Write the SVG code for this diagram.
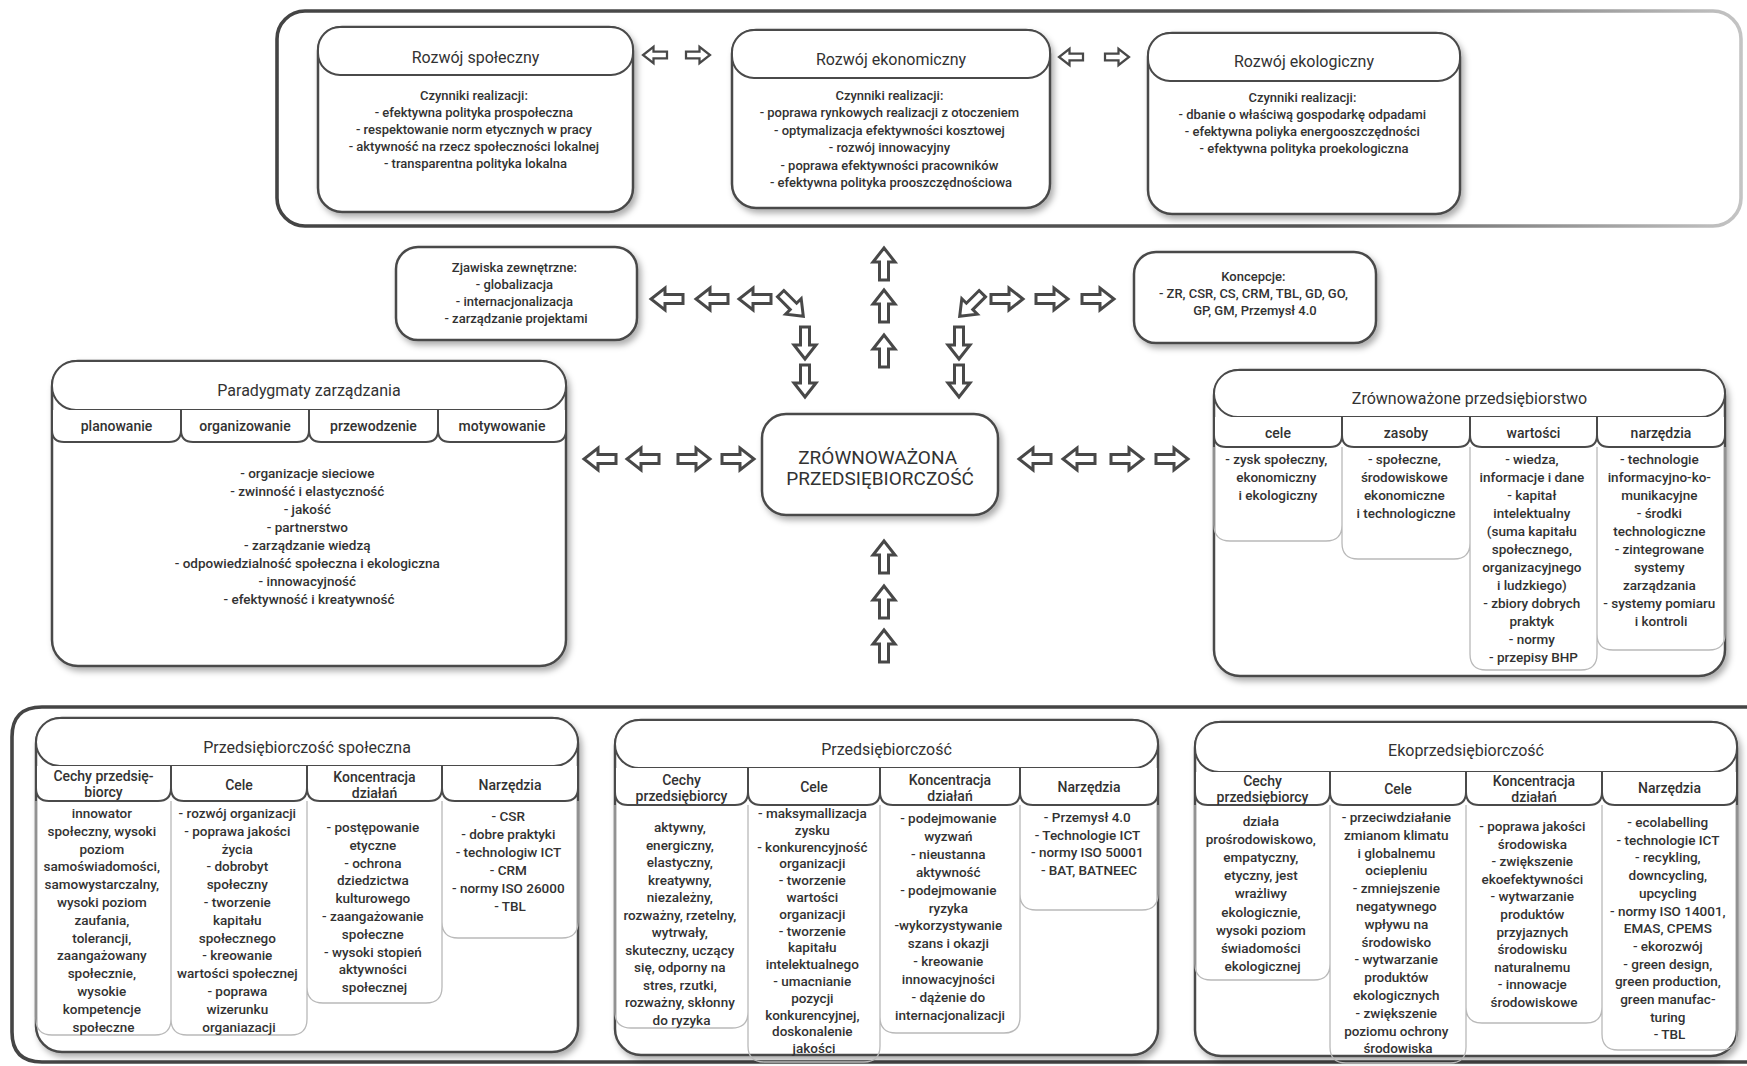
<svg xmlns="http://www.w3.org/2000/svg" xmlns:xlink="http://www.w3.org/1999/xlink" width="1747" height="1066" viewBox="0 0 1747 1066">
<defs>
<style>
.box{fill:#fff;stroke:#4a4a4a;stroke-width:2.5}
.hdr{fill:#fff;stroke:#4a4a4a;stroke-width:2}
.tabs{fill:#fff;stroke:#4a4a4a;stroke-width:2}
.col{fill:none;stroke:#b9b9b9;stroke-width:1.3}
.frame{fill:none;stroke-width:3.6}
text{font-family:Roboto,"Liberation Sans",sans-serif;fill:#323232;text-anchor:middle}
.t{font-size:16px}
.b{font-size:13px;font-weight:500}
.s{font-size:13.5px;font-weight:500}
.tb{font-size:14px;font-weight:500}
.c{font-size:19px}
.arr{fill:#fff;stroke:#484848;stroke-width:3;stroke-linejoin:miter}
</style>
<filter id="sh" x="-5%" y="-5%" width="115%" height="120%">
<feDropShadow dx="3" dy="4" stdDeviation="3" flood-color="#000" flood-opacity="0.32"/>
</filter>
<linearGradient id="fg" x1="0" y1="0" x2="1" y2="0">
<stop offset="0" stop-color="#444"/>
<stop offset="0.7" stop-color="#555"/>
<stop offset="1" stop-color="#c4c4c4"/>
</linearGradient>
<path id="ah" class="arr" d="M-16,-4.5 H2 V-11 L16,0 L2,11 V4.5 H-16 Z"/>
</defs>
<rect width="1747" height="1066" fill="#fff"/>

<!-- frames -->
<rect class="frame" x="277" y="11" width="1464" height="215" rx="28" stroke="url(#fg)"/>
<path class="frame" stroke="#454545" stroke-width="4" d="M1760 707 H42 Q12 707 12 737 V1032 Q12 1062 42 1062 H1760"/>

<!-- top row -->
<g id="rozwoj-spoleczny">
<rect class="box" filter="url(#sh)" x="318" y="27" width="315" height="185" rx="24"/>
<rect class="hdr" x="318" y="27" width="315" height="48" rx="22"/>
<text class="t" x="475.5" y="63">Rozwój społeczny</text>
<text class="b">
<tspan x="475.5" y="100">Czynniki realizacji:</tspan>
<tspan x="475.5" y="117">- efektywna polityka prospołeczna</tspan>
<tspan x="475.5" y="134">- respektowanie norm etycznych w pracy</tspan>
<tspan x="475.5" y="151">- aktywność na rzecz społeczności lokalnej</tspan>
<tspan x="475.5" y="168">- transparentna polityka lokalna</tspan>
</text>
</g>
<g id="rozwoj-ekonomiczny">
<rect class="box" filter="url(#sh)" x="732" y="30" width="318" height="178" rx="24"/>
<rect class="hdr" x="732" y="30" width="318" height="48" rx="22"/>
<text class="t" x="891" y="65">Rozwój ekonomiczny</text>
<text class="b">
<tspan x="891" y="100">Czynniki realizacji:</tspan>
<tspan x="891" y="117.4">- poprawa rynkowych realizacji z otoczeniem</tspan>
<tspan x="891" y="134.8">- optymalizacja efektywności kosztowej</tspan>
<tspan x="891" y="152.2">- rozwój innowacyjny</tspan>
<tspan x="891" y="169.6">- poprawa efektywności pracowników</tspan>
<tspan x="891" y="187">- efektywna polityka prooszczędnościowa</tspan>
</text>
</g>
<g id="rozwoj-ekologiczny">
<rect class="box" filter="url(#sh)" x="1148" y="33" width="312" height="181" rx="24"/>
<rect class="hdr" x="1148" y="33" width="312" height="48" rx="22"/>
<text class="t" x="1304" y="67">Rozwój ekologiczny</text>
<text class="b">
<tspan x="1304" y="102">Czynniki realizacji:</tspan>
<tspan x="1304" y="119">- dbanie o właściwą gospodarkę odpadami</tspan>
<tspan x="1304" y="136">- efektywna poliyka energooszczędności</tspan>
<tspan x="1304" y="153">- efektywna polityka proekologiczna</tspan>
</text>
</g>

<!-- middle row -->
<g id="zjawiska">
<rect class="box" filter="url(#sh)" x="396" y="247" width="241" height="93" rx="22"/>
<text class="b">
<tspan x="516" y="272">Zjawiska zewnętrzne:</tspan>
<tspan x="516" y="289">- globalizacja</tspan>
<tspan x="516" y="306">- internacjonalizacja</tspan>
<tspan x="516" y="323">- zarządzanie projektami</tspan>
</text>
</g>
<g id="koncepcje">
<rect class="box" filter="url(#sh)" x="1134" y="252" width="242" height="91" rx="22"/>
<text class="b">
<tspan x="1255" y="281">Koncepcje:</tspan>
<tspan x="1255" y="298">- ZR, CSR, CS, CRM, TBL, GD, GO,</tspan>
<tspan x="1255" y="315">GP, GM, Przemysł 4.0</tspan>
</text>
</g>

<g id="zrownowazona-przedsiebiorczosc">
<rect class="box" filter="url(#sh)" x="762" y="414" width="236" height="101" rx="24" stroke-width="4"/>
<text class="c">
<tspan x="880" y="464">ZRÓWNOWAŻONA</tspan>
<tspan x="880" y="485">PRZEDSIĘBIORCZOŚĆ</tspan>
</text>
</g>

<g id="paradygmaty">
<rect class="box" filter="url(#sh)" x="52" y="361" width="514" height="305" rx="26"/>
<rect class="hdr" x="52" y="361" width="514" height="49" rx="24"/>
<text class="t" x="309" y="396">Paradygmaty zarządzania</text>
<path class="tabs" d="M52 410 V430 Q52 442 64 442 H169 Q181 442 181 430 V410 M181 410 V430 Q181 442 193 442 H297 Q309 442 309 430 V410 M309 410 V430 Q309 442 321 442 H426 Q438 442 438 430 V410 M438 410 V430 Q438 442 450 442 H554 Q566 442 566 430 V410"/>
<text class="tb" x="116.5" y="431">planowanie</text>
<text class="tb" x="245" y="431">organizowanie</text>
<text class="tb" x="373.5" y="431">przewodzenie</text>
<text class="tb" x="502" y="431">motywowanie</text>
<text class="s">
<tspan x="309" y="478">- organizacje sieciowe</tspan>
<tspan x="309" y="496">- zwinność i elastyczność</tspan>
<tspan x="309" y="514">- jakość</tspan>
<tspan x="309" y="532">- partnerstwo</tspan>
<tspan x="309" y="550">- zarządzanie wiedzą</tspan>
<tspan x="309" y="568">- odpowiedzialność społeczna i ekologiczna</tspan>
<tspan x="309" y="586">- innowacyjność</tspan>
<tspan x="309" y="604">- efektywność i kreatywność</tspan>
</text>
</g>

<g id="zrownowazone-przedsiebiorstwo">
<rect class="box" filter="url(#sh)" x="1214" y="370" width="511" height="306" rx="26"/>
<rect class="hdr" x="1214" y="370" width="511" height="47" rx="24"/>
<text class="t" x="1469.5" y="404">Zrównoważone przedsiębiorstwo</text>
<path class="col" d="M1214 447 V525 Q1214 541 1230 541 H1326 Q1342 541 1342 525 V447 M1342 447 V543 Q1342 559 1358 559 H1454 Q1470 559 1470 543 V447 M1470 447 V654 Q1470 670 1486 670 H1581 Q1597 670 1597 654 V447 M1597 447 V634 Q1597 650 1613 650 H1709 Q1725 650 1725 634 V447"/>
<path class="tabs" d="M1214 417 V435 Q1214 447 1226 447 H1330 Q1342 447 1342 435 V417 M1342 417 V435 Q1342 447 1354 447 H1458 Q1470 447 1470 435 V417 M1470 417 V435 Q1470 447 1482 447 H1585 Q1597 447 1597 435 V417 M1597 417 V435 Q1597 447 1609 447 H1713 Q1725 447 1725 435 V417"/>
<text class="tb" x="1278" y="438">cele</text>
<text class="tb" x="1406" y="438">zasoby</text>
<text class="tb" x="1533.5" y="438">wartości</text>
<text class="tb" x="1661" y="438">narzędzia</text>
<text class="s">
<tspan x="1278" y="464">- zysk społeczny,</tspan>
<tspan x="1278" y="482">ekonomiczny</tspan>
<tspan x="1278" y="500">i ekologiczny</tspan>
</text>
<text class="s">
<tspan x="1406" y="464">- społeczne,</tspan>
<tspan x="1406" y="482">środowiskowe</tspan>
<tspan x="1406" y="500">ekonomiczne</tspan>
<tspan x="1406" y="518">i technologiczne</tspan>
</text>
<text class="s">
<tspan x="1533.5" y="464">- wiedza,</tspan>
<tspan x="1533.5" y="482">informacje i dane</tspan>
<tspan x="1533.5" y="500">- kapitał</tspan>
<tspan x="1533.5" y="518">intelektualny</tspan>
<tspan x="1533.5" y="536">(suma kapitału</tspan>
<tspan x="1533.5" y="554">społecznego,</tspan>
<tspan x="1533.5" y="572">organizacyjnego</tspan>
<tspan x="1533.5" y="590">i ludzkiego)</tspan>
<tspan x="1533.5" y="608">- zbiory dobrych</tspan>
<tspan x="1533.5" y="626">praktyk</tspan>
<tspan x="1533.5" y="644">- normy</tspan>
<tspan x="1533.5" y="662">- przepisy BHP</tspan>
</text>
<text class="s">
<tspan x="1661" y="464">- technologie</tspan>
<tspan x="1661" y="482">informacyjno-ko-</tspan>
<tspan x="1661" y="500">munikacyjne</tspan>
<tspan x="1661" y="518">- środki</tspan>
<tspan x="1661" y="536">technologiczne</tspan>
<tspan x="1661" y="554">- zintegrowane</tspan>
<tspan x="1661" y="572">systemy</tspan>
<tspan x="1661" y="590">zarządzania</tspan>
<tspan x="1661" y="608">- systemy pomiaru</tspan>
<tspan x="1661" y="626">i kontroli</tspan>
</text>
</g>

<!-- bottom row -->
<g id="przedsiebiorczosc-spoleczna">
<rect class="box" filter="url(#sh)" x="36" y="718" width="542" height="334" rx="26"/>
<rect class="hdr" x="36" y="718" width="542" height="48" rx="24"/>
<text class="t" x="307" y="753">Przedsiębiorczość społeczna</text>
<path class="col" d="M36 801 V1019 Q36 1035 52 1035 H155 Q171 1035 171 1019 V801 M171 801 V1019 Q171 1035 187 1035 H291 Q307 1035 307 1019 V801 M307 801 V987 Q307 1003 323 1003 H426 Q442 1003 442 987 V801 M442 801 V922 Q442 938 458 938 H562 Q578 938 578 922 V801"/>
<path class="tabs" d="M36 766 V788 Q36 801 49 801 H158 Q171 801 171 788 V766 M171 766 V788 Q171 801 184 801 H294 Q307 801 307 788 V766 M307 766 V788 Q307 801 320 801 H429 Q442 801 442 788 V766 M442 766 V788 Q442 801 455 801 H565 Q578 801 578 788 V766"/>
<text class="tb"><tspan x="103.5" y="781">Cechy przedsię-</tspan><tspan x="103.5" y="797">biorcy</tspan></text>
<text class="tb" x="239" y="790">Cele</text>
<text class="tb"><tspan x="374.5" y="782">Koncentracja</tspan><tspan x="374.5" y="798">działań</tspan></text>
<text class="tb" x="510" y="790">Narzędzia</text>
<text class="s">
<tspan x="103.5" y="818">innowator</tspan>
<tspan x="103.5" y="835.8">społeczny, wysoki</tspan>
<tspan x="103.5" y="853.6">poziom</tspan>
<tspan x="103.5" y="871.4">samoświadomości,</tspan>
<tspan x="103.5" y="889.2">samowystarczalny,</tspan>
<tspan x="103.5" y="907">wysoki poziom</tspan>
<tspan x="103.5" y="924.8">zaufania,</tspan>
<tspan x="103.5" y="942.6">tolerancji,</tspan>
<tspan x="103.5" y="960.4">zaangażowany</tspan>
<tspan x="103.5" y="978.2">społecznie,</tspan>
<tspan x="103.5" y="996">wysokie</tspan>
<tspan x="103.5" y="1013.8">kompetencje</tspan>
<tspan x="103.5" y="1031.6">społeczne</tspan>
</text>
<text class="s">
<tspan x="239" y="818">- rozwój organizacji</tspan>
<tspan x="239" y="835.8">- poprawa jakości</tspan>
<tspan x="239" y="853.6">życia</tspan>
<tspan x="239" y="871.4">- dobrobyt</tspan>
<tspan x="239" y="889.2">społeczny</tspan>
<tspan x="239" y="907">- tworzenie</tspan>
<tspan x="239" y="924.8">kapitału</tspan>
<tspan x="239" y="942.6">społecznego</tspan>
<tspan x="239" y="960.4">- kreowanie</tspan>
<tspan x="239" y="978.2">wartości społecznej</tspan>
<tspan x="239" y="996">- poprawa</tspan>
<tspan x="239" y="1013.8">wizerunku</tspan>
<tspan x="239" y="1031.6">organiazacji</tspan>
</text>
<text class="s">
<tspan x="374.5" y="832">- postępowanie</tspan>
<tspan x="374.5" y="849.8">etyczne</tspan>
<tspan x="374.5" y="867.6">- ochrona</tspan>
<tspan x="374.5" y="885.4">dziedzictwa</tspan>
<tspan x="374.5" y="903.2">kulturowego</tspan>
<tspan x="374.5" y="921">- zaangażowanie</tspan>
<tspan x="374.5" y="938.8">społeczne</tspan>
<tspan x="374.5" y="956.6">- wysoki stopień</tspan>
<tspan x="374.5" y="974.4">aktywności</tspan>
<tspan x="374.5" y="992.2">społecznej</tspan>
</text>
<text class="s">
<tspan x="510" y="821">- CSR</tspan>
<tspan x="510" y="839">- dobre praktyki</tspan>
<tspan x="510" y="857">- technologiw ICT</tspan>
<tspan x="510" y="875">- CRM</tspan>
<tspan x="510" y="893">- normy ISO 26000</tspan>
<tspan x="510" y="911">- TBL</tspan>
</text>
</g>

<g id="przedsiebiorczosc">
<rect class="box" filter="url(#sh)" x="615" y="720" width="543" height="335" rx="26"/>
<rect class="hdr" x="615" y="720" width="543" height="48" rx="24"/>
<text class="t" x="886.5" y="755">Przedsiębiorczość</text>
<path class="col" d="M615 805 V1012 Q615 1028 631 1028 H732 Q748 1028 748 1012 V805 M748 805 V1046 Q748 1062 764 1062 H864 Q880 1062 880 1046 V805 M880 805 V1017 Q880 1033 896 1033 H1004 Q1020 1033 1020 1017 V805 M1020 805 V894 Q1020 910 1036 910 H1142 Q1158 910 1158 894 V805"/>
<path class="tabs" d="M615 768 V792 Q615 805 628 805 H735 Q748 805 748 792 V768 M748 768 V792 Q748 805 761 805 H867 Q880 805 880 792 V768 M880 768 V792 Q880 805 893 805 H1007 Q1020 805 1020 792 V768 M1020 768 V792 Q1020 805 1033 805 H1145 Q1158 805 1158 792 V768"/>
<text class="tb"><tspan x="681.5" y="785">Cechy</tspan><tspan x="681.5" y="801">przedsiębiorcy</tspan></text>
<text class="tb" x="814" y="792">Cele</text>
<text class="tb"><tspan x="950" y="785">Koncentracja</tspan><tspan x="950" y="801">działań</tspan></text>
<text class="tb" x="1089" y="792">Narzędzia</text>
<text class="s">
<tspan x="681.5" y="832">aktywny,</tspan>
<tspan x="681.5" y="849.5">energiczny,</tspan>
<tspan x="681.5" y="867">elastyczny,</tspan>
<tspan x="681.5" y="884.5">kreatywny,</tspan>
<tspan x="681.5" y="902">niezależny,</tspan>
<tspan x="681.5" y="919.5">rozważny, rzetelny,</tspan>
<tspan x="681.5" y="937">wytrwały,</tspan>
<tspan x="681.5" y="954.5">skuteczny, uczący</tspan>
<tspan x="681.5" y="972">się, odporny na</tspan>
<tspan x="681.5" y="989.5">stres, rzutki,</tspan>
<tspan x="681.5" y="1007">rozważny, skłonny</tspan>
<tspan x="681.5" y="1024.5">do ryzyka</tspan>
</text>
<text class="s">
<tspan x="814" y="818">- maksymallizacja</tspan>
<tspan x="814" y="834.8">zysku</tspan>
<tspan x="814" y="851.6">- konkurencyjność</tspan>
<tspan x="814" y="868.4">organizacji</tspan>
<tspan x="814" y="885.2">- tworzenie</tspan>
<tspan x="814" y="902">wartości</tspan>
<tspan x="814" y="918.8">organizacji</tspan>
<tspan x="814" y="935.6">- tworzenie</tspan>
<tspan x="814" y="952.4">kapitału</tspan>
<tspan x="814" y="969.2">intelektualnego</tspan>
<tspan x="814" y="986">- umacnianie</tspan>
<tspan x="814" y="1002.8">pozycji</tspan>
<tspan x="814" y="1019.6">konkurencyjnej,</tspan>
<tspan x="814" y="1036.4">doskonalenie</tspan>
<tspan x="814" y="1053.2">jakości</tspan>
</text>
<text class="s">
<tspan x="950" y="823">- podejmowanie</tspan>
<tspan x="950" y="840.9">wyzwań</tspan>
<tspan x="950" y="858.8">- nieustanna</tspan>
<tspan x="950" y="876.7">aktywność</tspan>
<tspan x="950" y="894.6">- podejmowanie</tspan>
<tspan x="950" y="912.5">ryzyka</tspan>
<tspan x="950" y="930.4">-wykorzystywanie</tspan>
<tspan x="950" y="948.3">szans i okazji</tspan>
<tspan x="950" y="966.2">- kreowanie</tspan>
<tspan x="950" y="984.1">innowacyjności</tspan>
<tspan x="950" y="1002">- dążenie do</tspan>
<tspan x="950" y="1019.9">internacjonalizacji</tspan>
</text>
<text class="s">
<tspan x="1089" y="822">- Przemysł 4.0</tspan>
<tspan x="1089" y="839.5">- Technologie ICT</tspan>
<tspan x="1089" y="857">- normy ISO 50001</tspan>
<tspan x="1089" y="874.5">- BAT, BATNEEC</tspan>
</text>
</g>

<g id="ekoprzedsiebiorczosc">
<rect class="box" filter="url(#sh)" x="1195" y="722" width="542" height="334" rx="26"/>
<rect class="hdr" x="1195" y="722" width="542" height="50" rx="24"/>
<text class="t" x="1466" y="756">Ekoprzedsiębiorczość</text>
<path class="col" d="M1195 805 V964 Q1195 980 1211 980 H1314 Q1330 980 1330 964 V805 M1330 805 V1047 Q1330 1063 1346 1063 H1450 Q1466 1063 1466 1047 V805 M1466 805 V1007 Q1466 1023 1482 1023 H1586 Q1602 1023 1602 1007 V805 M1602 805 V1034 Q1602 1050 1618 1050 H1721 Q1737 1050 1737 1034 V805"/>
<path class="tabs" d="M1195 772 V792 Q1195 805 1208 805 H1317 Q1330 805 1330 792 V772 M1330 772 V792 Q1330 805 1343 805 H1453 Q1466 805 1466 792 V772 M1466 772 V792 Q1466 805 1479 805 H1589 Q1602 805 1602 792 V772 M1602 772 V792 Q1602 805 1615 805 H1724 Q1737 805 1737 792 V772"/>
<text class="tb"><tspan x="1262.5" y="786">Cechy</tspan><tspan x="1262.5" y="802">przedsiębiorcy</tspan></text>
<text class="tb" x="1398" y="794">Cele</text>
<text class="tb"><tspan x="1534" y="786">Koncentracja</tspan><tspan x="1534" y="802">działań</tspan></text>
<text class="tb" x="1669.5" y="793">Narzędzia</text>
<text class="s">
<tspan x="1262.5" y="826">działa</tspan>
<tspan x="1262.5" y="844.1">prośrodowiskowo,</tspan>
<tspan x="1262.5" y="862.2">empatyczny,</tspan>
<tspan x="1262.5" y="880.3">etyczny, jest</tspan>
<tspan x="1262.5" y="898.4">wrażliwy</tspan>
<tspan x="1262.5" y="916.5">ekologicznie,</tspan>
<tspan x="1262.5" y="934.6">wysoki poziom</tspan>
<tspan x="1262.5" y="952.7">świadomości</tspan>
<tspan x="1262.5" y="970.8">ekologicznej</tspan>
</text>
<text class="s">
<tspan x="1398" y="822">- przeciwdziałanie</tspan>
<tspan x="1398" y="839.8">zmianom klimatu</tspan>
<tspan x="1398" y="857.6">i globalnemu</tspan>
<tspan x="1398" y="875.4">ociepleniu</tspan>
<tspan x="1398" y="893.2">- zmniejszenie</tspan>
<tspan x="1398" y="911">negatywnego</tspan>
<tspan x="1398" y="928.8">wpływu na</tspan>
<tspan x="1398" y="946.6">środowisko</tspan>
<tspan x="1398" y="964.4">- wytwarzanie</tspan>
<tspan x="1398" y="982.2">produktów</tspan>
<tspan x="1398" y="1000">ekologicznych</tspan>
<tspan x="1398" y="1017.8">- zwiększenie</tspan>
<tspan x="1398" y="1035.6">poziomu ochrony</tspan>
<tspan x="1398" y="1053.4">środowiska</tspan>
</text>
<text class="s">
<tspan x="1534" y="831">- poprawa jakości</tspan>
<tspan x="1534" y="848.6">środowiska</tspan>
<tspan x="1534" y="866.2">- zwiększenie</tspan>
<tspan x="1534" y="883.8">ekoefektywności</tspan>
<tspan x="1534" y="901.4">- wytwarzanie</tspan>
<tspan x="1534" y="919">produktów</tspan>
<tspan x="1534" y="936.6">przyjaznych</tspan>
<tspan x="1534" y="954.2">środowisku</tspan>
<tspan x="1534" y="971.8">naturalnemu</tspan>
<tspan x="1534" y="989.4">- innowacje</tspan>
<tspan x="1534" y="1007">środowiskowe</tspan>
</text>
<text class="s">
<tspan x="1669.5" y="827">- ecolabelling</tspan>
<tspan x="1669.5" y="844.7">- technologie ICT</tspan>
<tspan x="1669.5" y="862.4">- recykling,</tspan>
<tspan x="1669.5" y="880.1">downcycling,</tspan>
<tspan x="1669.5" y="897.8">upcycling</tspan>
<tspan x="1669.5" y="915.5">- normy ISO 14001,</tspan>
<tspan x="1669.5" y="933.2">EMAS, CPEMS</tspan>
<tspan x="1669.5" y="950.9">- ekorozwój</tspan>
<tspan x="1669.5" y="968.6">- green design,</tspan>
<tspan x="1669.5" y="986.3">green production,</tspan>
<tspan x="1669.5" y="1004">green manufac-</tspan>
<tspan x="1669.5" y="1021.7">turing</tspan>
<tspan x="1669.5" y="1039.4">- TBL</tspan>
</text>
</g>

<!-- connectors (block arrows) -->
<g id="connectors">
<use xlink:href="#ah" transform="translate(655,55) rotate(180) scale(0.75)"/>
<use xlink:href="#ah" transform="translate(698,55) scale(0.75)"/>
<use xlink:href="#ah" transform="translate(1071,57) rotate(180) scale(0.75)"/>
<use xlink:href="#ah" transform="translate(1117,57) scale(0.75)"/>

<use xlink:href="#ah" transform="translate(667,299) rotate(180)"/>
<use xlink:href="#ah" transform="translate(712,299) rotate(180)"/>
<use xlink:href="#ah" transform="translate(755,299) rotate(180)"/>
<use xlink:href="#ah" transform="translate(792,305) rotate(45)"/>
<use xlink:href="#ah" transform="translate(805,343) rotate(90)"/>
<use xlink:href="#ah" transform="translate(805,381) rotate(90)"/>

<use xlink:href="#ah" transform="translate(884,264) rotate(-90)"/>
<use xlink:href="#ah" transform="translate(884,306) rotate(-90)"/>
<use xlink:href="#ah" transform="translate(884,351) rotate(-90)"/>

<use xlink:href="#ah" transform="translate(971,305) rotate(135)"/>
<use xlink:href="#ah" transform="translate(1007,299)"/>
<use xlink:href="#ah" transform="translate(1052,299)"/>
<use xlink:href="#ah" transform="translate(1098,299)"/>
<use xlink:href="#ah" transform="translate(959,343) rotate(90)"/>
<use xlink:href="#ah" transform="translate(959,381) rotate(90)"/>

<use xlink:href="#ah" transform="translate(600,459) rotate(180)"/>
<use xlink:href="#ah" transform="translate(643,459) rotate(180)"/>
<use xlink:href="#ah" transform="translate(694,459)"/>
<use xlink:href="#ah" transform="translate(738,459)"/>

<use xlink:href="#ah" transform="translate(1035,459) rotate(180)"/>
<use xlink:href="#ah" transform="translate(1079,459) rotate(180)"/>
<use xlink:href="#ah" transform="translate(1127,459)"/>
<use xlink:href="#ah" transform="translate(1172,459)"/>

<use xlink:href="#ah" transform="translate(884,557) rotate(-90)"/>
<use xlink:href="#ah" transform="translate(884,602) rotate(-90)"/>
<use xlink:href="#ah" transform="translate(884,646) rotate(-90)"/>
</g>
</svg>
